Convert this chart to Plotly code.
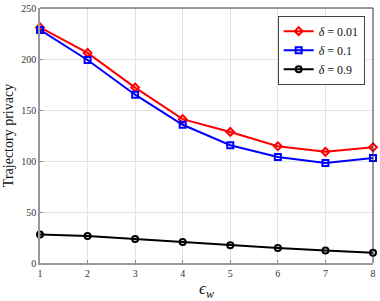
import plotly.graph_objects as go

eps_w = [1, 2, 3, 4, 5, 6, 7, 8]
delta_001 = [231, 206, 172, 141, 128.5, 114.5, 109, 113.5]
delta_01 = [228.5, 199, 165, 135.5, 115.5, 104, 98, 103]
delta_09 = [28, 26.5, 23.5, 20.5, 17.5, 14.8, 12.3, 10]
x_ticks = [1, 2, 3, 4, 5, 6, 7, 8]
y_ticks = [0, 50, 100, 150, 200, 250]

font = "Liberation Serif, DejaVu Serif, serif"

fig = go.Figure()
series = [
    (delta_001, "<i>δ</i> = 0.01", "#ff0000", "diamond-open"),
    (delta_01, "<i>δ</i> = 0.1", "#0000ff", "square-open"),
    (delta_09, "<i>δ</i> = 0.9", "#000000", "circle-open"),
]
for ys, name, col, sym in series:
    fig.add_trace(go.Scatter(
        x=eps_w, y=ys, name=name, mode="lines+markers",
        line=dict(color=col, width=2),
        marker=dict(symbol=sym, size=6, color=col, line=dict(width=2, color=col)),
        cliponaxis=False,
    ))

fig.update_layout(
    width=380, height=301,
    margin=dict(l=40, r=7, t=8, b=38, autoexpand=False),
    paper_bgcolor="white", plot_bgcolor="white",
    font=dict(family=font, size=10, color="#333333"),
    showlegend=True,
    legend=dict(
        x=0.975, y=0.97, xanchor="right", yanchor="top",
        bgcolor="white", bordercolor="#444444", borderwidth=1,
        font=dict(family=font, size=12, color="#111111"),
        tracegroupgap=0, itemwidth=30,
    ),
    xaxis=dict(
        range=[1, 8], tickvals=x_ticks, ticks="inside", ticklen=3,
        tickcolor="#888888", showgrid=True, gridcolor="#e3e3e3",
        showline=True, linecolor="#999999", linewidth=1.5, mirror=False,
        zeroline=False, automargin=False,
        title=dict(text="<i>ϵ</i><sub><i>w</i></sub>", font=dict(family=font, size=17, color="#111111"), standoff=6),
        tickfont=dict(family=font, size=10, color="#333333"),
    ),
    yaxis=dict(
        range=[0, 250], tickvals=y_ticks, ticks="inside", ticklen=3,
        tickcolor="#888888", showgrid=True, gridcolor="#e3e3e3",
        showline=True, linecolor="#999999", linewidth=1.5, mirror=False,
        zeroline=False, automargin=False,
        title=dict(text="Trajectory privacy", font=dict(family=font, size=14, color="#111111"), standoff=4),
        tickfont=dict(family=font, size=10, color="#333333"),
    ),
)
# box top and right edges
fig.add_shape(type="line", xref="paper", yref="paper", x0=0, x1=1, y0=1, y1=1,
              line=dict(color="#333333", width=1))
fig.add_shape(type="line", xref="paper", yref="paper", x0=1, x1=1, y0=0, y1=1,
              line=dict(color="#333333", width=1))

fig.write_html("out.html", config={"displayModeBar": False},
               post_script="document.body.style.margin='0px';document.body.style.overflow='hidden';")
